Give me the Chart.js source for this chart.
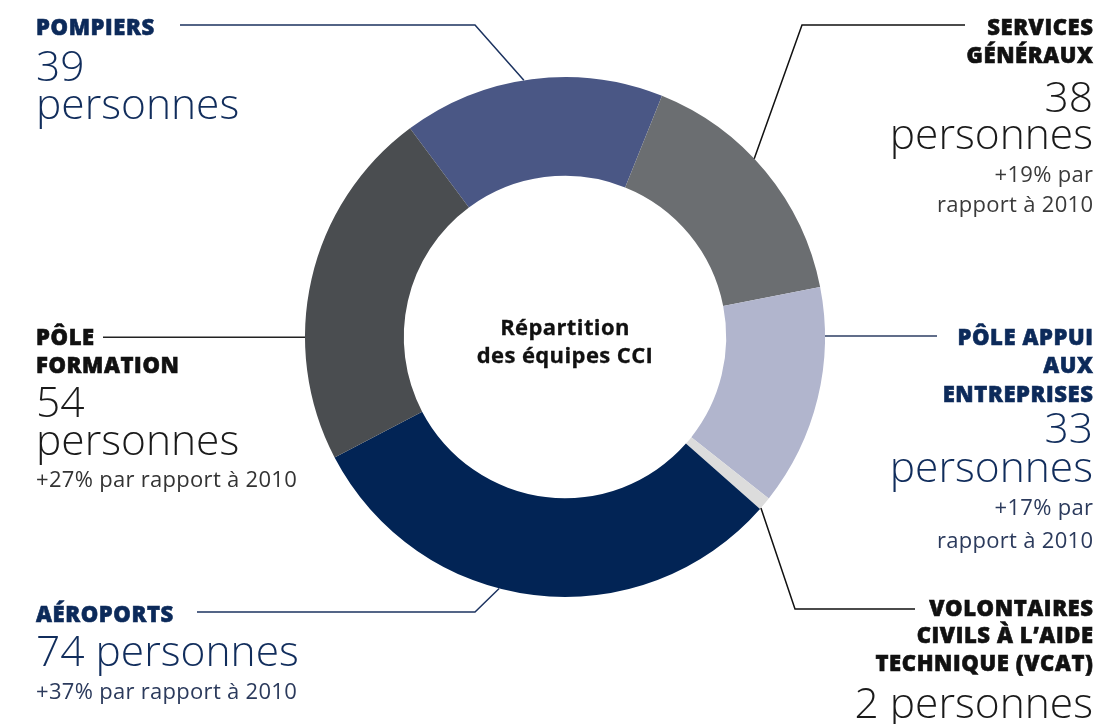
<!DOCTYPE html>
<html lang="fr">
<head>
  <meta charset="UTF-8" />
  <title>Répartition des équipes CCI</title>
  <script src="https://cdn.jsdelivr.net/npm/chart.js"></script>
  <style>
    html, body { margin: 0; padding: 0; background: #fff; }
    body { width: 1100px; height: 724px; overflow: hidden; position: relative; font-family: "Open Sans", sans-serif; }
    #wrap { position: absolute; left: 0; top: 0; width: 1100px; height: 724px; }
    .ln { position: absolute; white-space: nowrap; line-height: 1; }
    .head { font-size: 22px; font-weight: 800; letter-spacing: 0.6px; -webkit-text-stroke: 0.6px currentColor; }
    .num { font-size: 42.5px; font-weight: 300; }
    .sub { font-size: 22px; font-weight: 400; letter-spacing: 0.3px; }
    .center { font-size: 22px; font-weight: 700; letter-spacing: 0.4px; -webkit-text-stroke: 0.3px currentColor; color: #111; }
  </style>
</head>
<body>
  <div id="wrap"><canvas id="donut"></canvas></div>
  <div id="labels"></div>

  <script>
    // data
    const categories = ["POMPIERS", "SERVICES GÉNÉRAUX", "PÔLE APPUI AUX ENTREPRISES", "VOLONTAIRES CIVILS À L’AIDE TECHNIQUE (VCAT)", "AÉROPORTS", "PÔLE FORMATION"];
    const headLines = [["POMPIERS"], ["SERVICES", "GÉNÉRAUX"], ["PÔLE APPUI", "AUX", "ENTREPRISES"], ["VOLONTAIRES", "CIVILS À L’AIDE", "TECHNIQUE (VCAT)"], ["AÉROPORTS"], ["PÔLE", "FORMATION"]];
    const headcount = [39, 38, 33, 2, 74, 54];
    const numLines = [["39", "personnes"], ["38", "personnes"], ["33", "personnes"], ["2 personnes"], ["74 personnes"], ["54", "personnes"]];
    const growthLines = [[], ["+19% par", "rapport à 2010"], ["+17% par", "rapport à 2010"], [], ["+37% par rapport à 2010"], ["+27% par rapport à 2010"]];
    const centerTitle = ["Répartition", "des équipes CCI"];

    const sliceColors = ["#4a5785", "#6b6e71", "#b1b5cd", "#dcdcdc", "#022455", "#4a4d50"];
    const headColors = ["#0c2a5a", "#111111", "#0c2a5a", "#111111", "#0c2a5a", "#111111"];
    const numColors = ["#112d5c", "#1a1a1a", "#112d5c", "#1a1a1a", "#112d5c", "#1a1a1a"];
    const subColors = ["#333", "#3a3a3a", "#2b3a5c", "#333", "#2b3a5c", "#333"];
    const lineColors = ["#1b325f", "#111111", "#2c3e63", "#111111", "#1d3360", "#222222"];

    // label layout: x, align, baselines of the heading lines, number lines, growth lines
    const labelLayout = [
      { x: 36, align: "l", head: [35], num: [82, 120], sub: [] },
      { x: 1093, align: "r", head: [35, 63], num: [113, 150], sub: [182, 212] },
      { x: 1093, align: "r", head: [345, 373, 402], num: [444, 483], sub: [515, 548] },
      { x: 1093, align: "r", head: [616, 643, 671], num: [719], sub: [] },
      { x: 36, align: "l", head: [622], num: [667], sub: [699] },
      { x: 36, align: "l", head: [345, 373], num: [418, 456], sub: [487] }
    ];
    // leader lines: where on the arc they start, elbow, end of horizontal run
    const leaders = [
      { frac: 0.47, elbow: [475, 25], endX: 180 },
      { frac: 0.435, elbow: [802, 25], endX: 965 },
      { frac: 0.22, elbow: null, endX: 937 },
      { frac: 0.9, elbow: [795, 609], endX: 915 },
      { frac: 0.57, elbow: [475, 612], endX: 197 },
      { frac: 0.34, elbow: null, endX: 103 }
    ];

    function addLine(text, cls, size, baseline, x, align, color) {
      const d = document.createElement("div");
      d.className = "ln " + cls;
      d.textContent = text;
      d.style.top = (baseline - 0.888 * size) + "px";
      d.style.color = color;
      if (align === "r") {
        d.style.right = (1100 - x) + "px";
        d.style.marginRight = cls === "head" ? "-0.6px" : (cls === "sub" ? "-0.3px" : "0");
      } else {
        d.style.left = x + "px";
      }
      document.getElementById("labels").appendChild(d);
    }

    labelLayout.forEach((L, i) => {
      headLines[i].forEach((t, k) => addLine(t, "head", 22, L.head[k], L.x, L.align, headColors[i]));
      numLines[i].forEach((t, k) => addLine(t, "num", 42.5, L.num[k], L.x, L.align, numColors[i]));
      growthLines[i].forEach((t, k) => addLine(t, "sub", 22, L.sub[k], L.x, L.align, subColors[i]));
    });

    centerTitle.forEach((t, k) => {
      const d = document.createElement("div");
      d.className = "ln center";
      d.textContent = t;
      d.style.left = "365px";
      d.style.width = "400px";
      d.style.textAlign = "center";
      d.style.top = ([335, 363][k] - 0.888 * 22) + "px";
      document.getElementById("labels").appendChild(d);
    });

    const leaderPlugin = {
      id: "leaders",
      afterDraw(chart) {
        const ctx = chart.ctx;
        const arcs = chart.getDatasetMeta(0).data;
        ctx.save();
        ctx.lineWidth = 1.5;
        arcs.forEach((arc, i) => {
          const p = arc.getProps(["x", "y", "startAngle", "endAngle", "outerRadius"], true);
          const L = leaders[i];
          const a = p.startAngle + L.frac * (p.endAngle - p.startAngle);
          const ax = p.x + Math.cos(a) * p.outerRadius;
          const ay = p.y + Math.sin(a) * p.outerRadius;
          ctx.strokeStyle = lineColors[i];
          ctx.beginPath();
          ctx.moveTo(ax, ay);
          if (L.elbow) {
            ctx.lineTo(L.elbow[0], L.elbow[1]);
            ctx.lineTo(L.endX, L.elbow[1]);
          } else {
            ctx.lineTo(L.endX, ay);
          }
          ctx.stroke();
        });
        ctx.restore();
      }
    };

    new Chart(document.getElementById("donut"), {
      type: "doughnut",
      data: {
        labels: categories,
        datasets: [{
          data: headcount,
          backgroundColor: sliceColors,
          borderWidth: 0
        }]
      },
      options: {
        responsive: true,
        maintainAspectRatio: false,
        animation: false,
        rotation: -36.6,
        cutout: "62%",
        layout: { padding: { left: 305, right: 275, top: 77, bottom: 127 } },
        plugins: { legend: { display: false }, tooltip: { enabled: false } }
      },
      plugins: [leaderPlugin]
    });
  </script>
</body>
</html>
